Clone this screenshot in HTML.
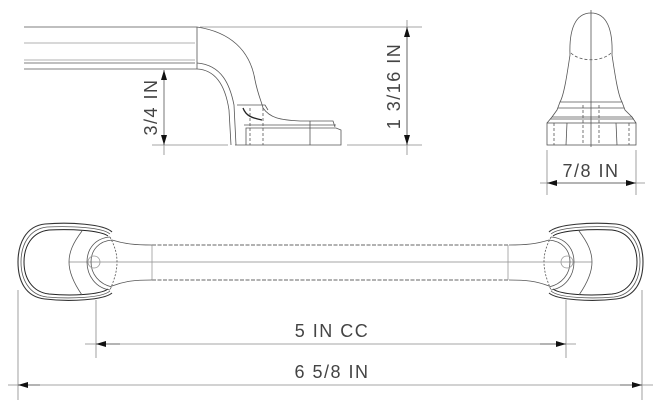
<!DOCTYPE html>
<html><head><meta charset="utf-8"><style>
html,body{margin:0;padding:0;background:#fff;}
svg{display:block;}
text{font-family:"Liberation Sans",sans-serif;fill:#444;font-size:18px;letter-spacing:1.5px;}
</style></head><body>
<svg width="660" height="420" viewBox="0 0 660 420" xmlns="http://www.w3.org/2000/svg">
<defs>
<marker id="a" viewBox="0 0 10 6" refX="10" refY="3" markerWidth="10" markerHeight="6" orient="auto" markerUnits="userSpaceOnUse"><path d="M0,0L10,3L0,6z" fill="#111"/></marker>
</defs>
<g fill="none" stroke="#555" stroke-width="0.8">
<line x1="24" y1="27" x2="197" y2="27"/>
<line x1="24" y1="43" x2="195" y2="43" stroke="#999"/>
<line x1="24" y1="60" x2="195" y2="60" stroke="#999"/>
<line x1="24" y1="63" x2="195" y2="63"/>
<line x1="24" y1="69" x2="197" y2="69"/>
<line x1="197" y1="27" x2="197" y2="69"/>
<path d="M197,27 C230,32 250,50 255,80 C258,95 262,103 263,108 C270,118 280,120 300,121 L333,121 L335,127"/>
<path d="M197,63 C222,65 230,85 234,105 L236,145"/>
<path d="M197,69 C218,70 226,90 229,110 L231,145"/>
<path d="M237,105 L265,105 L268,110"/>
<path d="M243,108 C246,116 252,118 262,120" stroke="#222" stroke-width="1.3"/>
<path d="M235,145 L341,145 L341,130 L336,128 L246,128 L246,145"/>
<line x1="244" y1="125" x2="336" y2="125"/>
<line x1="310" y1="121" x2="310" y2="145"/>
<line x1="263" y1="108" x2="263" y2="145" stroke-dasharray="3,2"/>
<line x1="250" y1="108" x2="250" y2="145" stroke-dasharray="3,2"/>
<g stroke="#888">
<line x1="200" y1="27" x2="422" y2="27"/>
<line x1="152" y1="145" x2="228" y2="145"/>
<line x1="347" y1="145" x2="422" y2="145"/>
<line x1="164" y1="145" x2="164" y2="155"/>
<line x1="407" y1="20" x2="407" y2="155"/>
</g>
<line x1="164" y1="108" x2="164" y2="70" stroke="#555" marker-end="url(#a)"/>
<line x1="164" y1="108" x2="164" y2="145" stroke="#555" marker-end="url(#a)"/>
<line x1="407" y1="86" x2="407" y2="27" stroke="#555" marker-end="url(#a)"/>
<line x1="407" y1="86" x2="407" y2="145" stroke="#555" marker-end="url(#a)"/>
<path d="M570,55 C569,30 575,13 591,13 C607,13 613,30 612,55 C615,75 618,95 622,102 L560,102 C564,95 567,75 570,55Z"/>
<line x1="591" y1="10" x2="591" y2="147"/>
<path d="M571,53 C580,62 602,62 611,53" stroke-dasharray="3,2"/>
<path d="M560,102 L557,110 L552,117 L632,117 L625,110 L622,102"/>
<line x1="558" y1="108" x2="624" y2="108"/>
<rect x="547" y="123" width="89" height="22"/>
<path d="M552,117 L547,123 M632,117 L636,123"/>
<line x1="550" y1="119" x2="634" y2="119"/>
<line x1="567" y1="123" x2="566" y2="145"/><line x1="616" y1="123" x2="617" y2="145"/>
<g stroke-dasharray="3,2"><line x1="554" y1="123" x2="554" y2="145"/><line x1="629" y1="123" x2="629" y2="145"/><line x1="583" y1="105" x2="583" y2="145"/><line x1="599" y1="105" x2="599" y2="145"/></g>
<g stroke="#888"><line x1="547" y1="150" x2="547" y2="195"/><line x1="636" y1="150" x2="636" y2="195"/><line x1="540" y1="183" x2="645" y2="183"/></g>
<line x1="591" y1="183" x2="547" y2="183" stroke="#555" marker-end="url(#a)"/>
<line x1="591" y1="183" x2="636" y2="183" stroke="#555" marker-end="url(#a)"/>
<line x1="69" y1="262" x2="592" y2="262" stroke="#888"/>
<line x1="152" y1="245" x2="508" y2="245" stroke="#333" stroke-dasharray="4,1.5"/>
<line x1="152" y1="280" x2="508" y2="280" stroke="#333" stroke-dasharray="4,1.5"/>
<line x1="152" y1="245" x2="152" y2="280" stroke="#999"/>
<line x1="508" y1="245" x2="508" y2="280" stroke="#999"/>
<g id="end">
<path d="M112,232 C104,224 70,222 45,224 C25,226 18,245 18,262 C18,280 25,297 45,299 C70,302 104,300 112,293" stroke="#333" stroke-width="1.1"/>
<path d="M110,234 C102,227 70,226 47,227 C29,229 21,245 21,262 C21,279 29,295 47,297 C70,299 102,298 110,291"/>
<path d="M108,236 C100,230 70,229 49,230 C32,232 24,246 24,262 C24,278 32,292 49,294 C70,296 100,295 108,289" stroke="#222" stroke-width="1"/>
<path d="M82,231 C73,243 69,252 69,262 C69,272 73,282 82,295"/>
<path d="M110,237 C96,238 87,248 87,262 C87,276 96,288 110,290"/>
<path d="M112,240 C99,241 91,250 91,262 C91,274 99,284 112,287"/>
<path d="M110,237 C114,245 117,252 117,262 C117,272 114,280 110,290" stroke-dasharray="2,1.5"/>
<path d="M112,240 C125,244 135,245 152,245 M112,286 C125,281 135,280 152,280"/>
<circle cx="94" cy="262" r="6" stroke="#999"/>
</g>
<use href="#end" transform="translate(661,0) scale(-1,1)"/>
<g stroke="#888">
<line x1="96" y1="300" x2="96" y2="358"/>
<line x1="566" y1="300" x2="566" y2="358"/>
<line x1="85" y1="344" x2="576" y2="344"/>
<line x1="18" y1="290" x2="18" y2="400"/>
<line x1="642" y1="290" x2="642" y2="400"/>
<line x1="8" y1="385" x2="653" y2="385"/>
</g>
<line x1="120" y1="344" x2="96" y2="344" stroke="#555" marker-end="url(#a)"/>
<line x1="540" y1="344" x2="566" y2="344" stroke="#555" marker-end="url(#a)"/>
<line x1="40" y1="385" x2="18" y2="385" stroke="#555" marker-end="url(#a)"/>
<line x1="620" y1="385" x2="642" y2="385" stroke="#555" marker-end="url(#a)"/>
</g>
<text x="332" y="337" text-anchor="middle">5 IN CC</text>
<text x="332" y="378" text-anchor="middle">6 5/8 IN</text>
<text x="591" y="177" text-anchor="middle">7/8 IN</text>
<text transform="translate(157,107) rotate(-90)" text-anchor="middle">3/4 IN</text>
<text transform="translate(400,86) rotate(-90)" text-anchor="middle">1 3/16 IN</text>
</svg>
</body></html>
